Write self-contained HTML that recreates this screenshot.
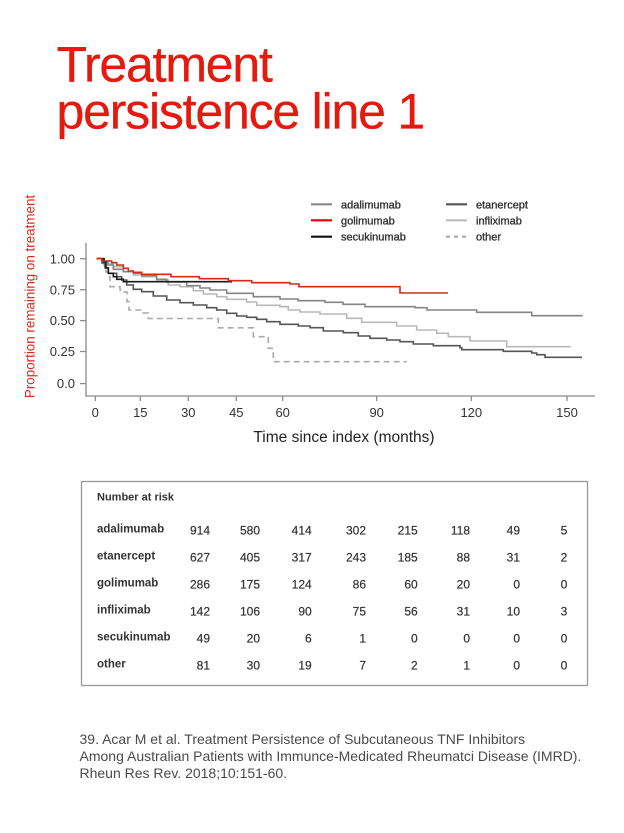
<!DOCTYPE html>
<html>
<head>
<meta charset="utf-8">
<style>
  html, body { margin:0; padding:0; background:#fff; }
  body { width:624px; height:833px; overflow:hidden; }
  svg { display:block; }
  text { font-family: "Liberation Sans", Arial, sans-serif; }
</style>
</head>
<body>
<svg width="624" height="833" viewBox="0 0 624 833" xmlns="http://www.w3.org/2000/svg">
  <!-- Title -->
  <g fill="#e41a0f" stroke="#e41a0f" stroke-width="0.3" font-size="50" letter-spacing="-1.2">
    <text x="56.5" y="81.7">Treatment</text>
    <text x="56.5" y="128.3">persistence line 1</text>
  </g>

  <!-- Legend -->
  <g stroke-width="2.2" fill="none">
    <line x1="311" y1="204.3" x2="332" y2="204.3" stroke="#888"/>
    <line x1="311" y1="220.3" x2="332" y2="220.3" stroke="#e00000"/>
    <line x1="311" y1="236.7" x2="332" y2="236.7" stroke="#111"/>
    <line x1="446" y1="204.3" x2="467" y2="204.3" stroke="#555"/>
    <line x1="446" y1="220.3" x2="467" y2="220.3" stroke="#bbb"/>
    <line x1="446" y1="236.7" x2="467" y2="236.7" stroke="#aaa" stroke-dasharray="4 4"/>
  </g>
  <g font-size="11" fill="#333" stroke="#333" stroke-width="0.35">
    <text x="341" y="208.3">adalimumab</text>
    <text x="341" y="224.3">golimumab</text>
    <text x="341" y="240.7">secukinumab</text>
    <text x="476" y="208.3">etanercept</text>
    <text x="476" y="224.3">infliximab</text>
    <text x="476" y="240.7">other</text>
  </g>

  <!-- Axes -->
  <g stroke="#8a8a8a" stroke-width="1.3" fill="none">
    <line x1="86" y1="243" x2="86" y2="396.5"/>
    <line x1="85.4" y1="396" x2="595" y2="396"/>
    <line x1="80" y1="258.7" x2="86" y2="258.7"/>
    <line x1="80" y1="289.7" x2="86" y2="289.7"/>
    <line x1="80" y1="320.6" x2="86" y2="320.6"/>
    <line x1="80" y1="351.5" x2="86" y2="351.5"/>
    <line x1="80" y1="383.6" x2="86" y2="383.6"/>
    <line x1="95.3" y1="396" x2="95.3" y2="401"/>
    <line x1="140.3" y1="396" x2="140.3" y2="401"/>
    <line x1="188.3" y1="396" x2="188.3" y2="401"/>
    <line x1="236.3" y1="396" x2="236.3" y2="401"/>
    <line x1="282.7" y1="396" x2="282.7" y2="401"/>
    <line x1="376.7" y1="396" x2="376.7" y2="401"/>
    <line x1="471.3" y1="396" x2="471.3" y2="401"/>
    <line x1="567" y1="396" x2="567" y2="401"/>
  </g>
  <g font-size="13" fill="#333" text-anchor="end">
    <text x="75" y="263.3">1.00</text>
    <text x="75" y="294.3">0.75</text>
    <text x="75" y="325.2">0.50</text>
    <text x="75" y="356.1">0.25</text>
    <text x="75" y="388.2">0.0</text>
  </g>
  <g font-size="13" fill="#333" text-anchor="middle">
    <text x="95.3" y="417">0</text>
    <text x="140.3" y="417">15</text>
    <text x="188.3" y="417">30</text>
    <text x="236.3" y="417">45</text>
    <text x="282.7" y="417">60</text>
    <text x="376.7" y="417">90</text>
    <text x="471.3" y="417">120</text>
    <text x="567" y="417">150</text>
  </g>
  <text x="344" y="442" font-size="15.5" fill="#222" text-anchor="middle">Time since index (months)</text>
  <text transform="translate(34.5,296.5) rotate(-90)" font-size="13.4" fill="#e02a1f" text-anchor="middle">Proportion remaining on treatment</text>

  <!-- Curves -->
  <g fill="none" stroke-width="1.6" stroke-linejoin="miter">
    <path stroke="#aaa" stroke-dasharray="6 4" d="M96.7,258.7 H104 V265 H106 V272 H108.3 V276.7 H110 V286.7 H120 V290 H123.3 V292 H127 V301.7 H129 V310 H141.7 V313 H148.3 V318.5 H218.3 V327.8 H253.3 V336.7 H268.3 V348.3 H273.3 V361.7 H406.7"/>
    <path stroke="#b8b8b8" d="M96.7,258.7 H104 V261 H108 V264 H113.3 V266.7 H123.3 V271.7 H133.3 V275 H141.7 V276.7 H156.7 V280 H168.3 V285 H180 V286.7 H193.3 V290.7 H203.3 V294 H216.7 V296.7 H226.7 V299.3 H246.7 V302 H256.7 V305.3 H280 V306.7 H288.3 V310 H300 V312 H320 V314 H346.7 V318.3 H361.7 V322.3 H396.7 V326 H416.7 V330 H436.7 V333.3 H448.3 V336.7 H470 V341 H506.7 V346.7 H570.7"/>
    <path stroke="#858585" d="M96.7,258.7 H104 V262 H108 V265 H113.3 V269.3 H123.3 V271.7 H133.3 V273.3 H141.7 V275.7 H156.7 V279.3 H166.7 V282 H186.7 V285.7 H200 V288 H210 V290 H226.7 V293.3 H253.3 V296.7 H280 V299 H298 V300.7 H325 V302.3 H343 V304.3 H365 V306.7 H415 V307.7 H427 V310 H476.7 V312.3 H531.7 V315.7 H582.7"/>
    <path stroke="#555" d="M96.7,258.7 H102 V263 H105 V268 H108.3 V273.3 H116.7 V276.7 H121.7 V280 H126.7 V285 H133.3 V289.3 H141.7 V291.7 H153.3 V296 H166.7 V300 H180 V302.7 H193.3 V305 H206.7 V307.7 H216.7 V310 H226.7 V313.3 H236.7 V316 H246.7 V317.3 H256.7 V319.3 H266.7 V321.7 H280 V324.3 H298.3 V326 H310 V327.7 H323.3 V331 H343.3 V332.7 H358.3 V336 H370 V338.3 H386.7 V340 H400 V341.7 H413.3 V344 H433.3 V345.7 H460 V347.7 H461.7 V349.7 H503.3 V351.3 H531.7 V353 H536.7 V354.7 H545 V357.3 H582"/>
    <path stroke="#1a1a1a" d="M96.7,258.7 H104 V262 H106 V268 H108.3 V273.3 H113.3 V276.7 H116.7 V279.3 H123.3 V281.7 H232"/>
    <path stroke="#d42a1a" d="M96.7,258.7 H101.7 V261 H111.7 V262.7 H116.7 V265 H123.3 V268.3 H128.3 V271 H133.3 V272.3 H141.7 V274.3 H171 V276.7 H199.3 V278.7 H228.3 V280.7 H251.7 V282.7 H290 V284 H299 V286.7 H400 V293 H448"/>
  </g>

  <!-- Number at risk table -->
  <rect x="81.5" y="481.5" width="506" height="204" fill="none" stroke="#9a9a9a" stroke-width="1.3"/>
  <text x="97" y="500.7" font-size="11" font-weight="bold" fill="#333">Number at risk</text>
  <g font-size="11.5" font-weight="bold" fill="#333">
    <text x="97" y="532.5">adalimumab</text>
    <text x="97" y="559.5">etanercept</text>
    <text x="97" y="586.5">golimumab</text>
    <text x="97" y="613.5">infliximab</text>
    <text x="97" y="640.5">secukinumab</text>
    <text x="97" y="667.5">other</text>
  </g>
  <g font-size="12" fill="#333" stroke="#333" stroke-width="0.2" text-anchor="end">
    <text x="210" y="534.3">914</text><text x="260" y="534.3">580</text><text x="311.7" y="534.3">414</text><text x="366" y="534.3">302</text><text x="417.7" y="534.3">215</text><text x="470" y="534.3">118</text><text x="520" y="534.3">49</text><text x="567.3" y="534.3">5</text>
    <text x="210" y="561.3">627</text><text x="260" y="561.3">405</text><text x="311.7" y="561.3">317</text><text x="366" y="561.3">243</text><text x="417.7" y="561.3">185</text><text x="470" y="561.3">88</text><text x="520" y="561.3">31</text><text x="567.3" y="561.3">2</text>
    <text x="210" y="588.3">286</text><text x="260" y="588.3">175</text><text x="311.7" y="588.3">124</text><text x="366" y="588.3">86</text><text x="417.7" y="588.3">60</text><text x="470" y="588.3">20</text><text x="520" y="588.3">0</text><text x="567.3" y="588.3">0</text>
    <text x="210" y="615.3">142</text><text x="260" y="615.3">106</text><text x="311.7" y="615.3">90</text><text x="366" y="615.3">75</text><text x="417.7" y="615.3">56</text><text x="470" y="615.3">31</text><text x="520" y="615.3">10</text><text x="567.3" y="615.3">3</text>
    <text x="210" y="642.3">49</text><text x="260" y="642.3">20</text><text x="311.7" y="642.3">6</text><text x="366" y="642.3">1</text><text x="417.7" y="642.3">0</text><text x="470" y="642.3">0</text><text x="520" y="642.3">0</text><text x="567.3" y="642.3">0</text>
    <text x="210" y="669.3">81</text><text x="260" y="669.3">30</text><text x="311.7" y="669.3">19</text><text x="366" y="669.3">7</text><text x="417.7" y="669.3">2</text><text x="470" y="669.3">1</text><text x="520" y="669.3">0</text><text x="567.3" y="669.3">0</text>
  </g>

  <!-- Citation -->
  <g font-size="14" fill="#4a4a4a">
    <text x="79.5" y="744">39. Acar M et al. Treatment Persistence of Subcutaneous TNF Inhibitors</text>
    <text x="79.5" y="761">Among Australian Patients with Immunce-Medicated Rheumatci Disease (IMRD).</text>
    <text x="79.5" y="778">Rheun Res Rev. 2018;10:151-60.</text>
  </g>
</svg>
</body>
</html>
